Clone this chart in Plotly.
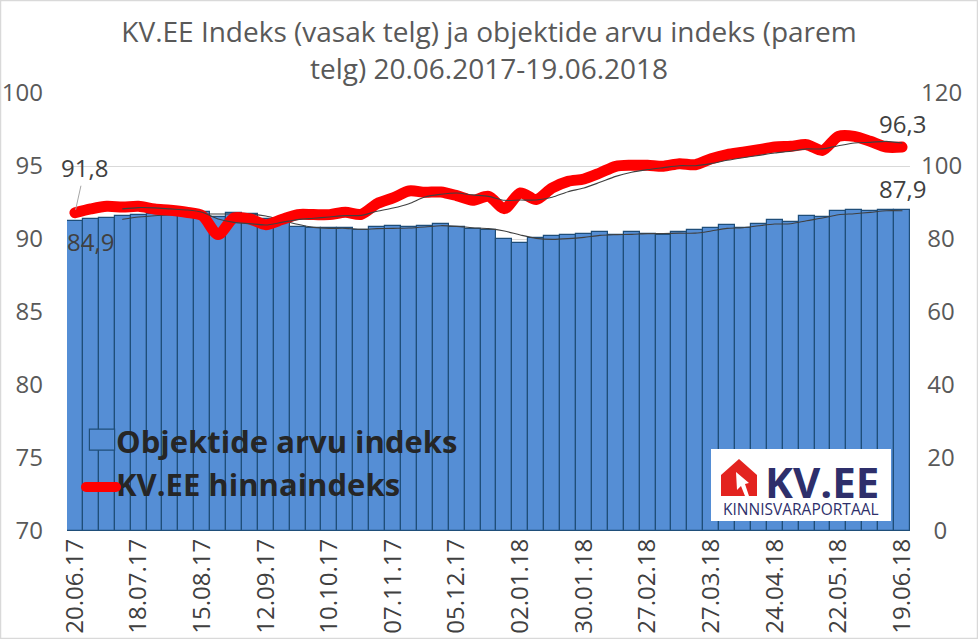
import plotly.graph_objects as go

W, H = 978, 639
L, R, T, B = 67, 910, 93, 531

title_lines = ["KV.EE Indeks (vasak telg) ja objektide arvu indeks (parem", "telg) 20.06.2017-19.06.2018"]

categories = ["20.06.17","27.06.17","04.07.17","11.07.17","18.07.17","25.07.17","01.08.17","08.08.17","15.08.17",
 "22.08.17","29.08.17","05.09.17","12.09.17","19.09.17","26.09.17","03.10.17","10.10.17","17.10.17","24.10.17",
 "31.10.17","07.11.17","14.11.17","21.11.17","28.11.17","05.12.17","12.12.17","19.12.17","26.12.17","02.01.18",
 "09.01.18","16.01.18","23.01.18","30.01.18","06.02.18","13.02.18","20.02.18","27.02.18","06.03.18","13.03.18",
 "20.03.18","27.03.18","03.04.18","10.04.18","17.04.18","24.04.18","01.05.18","08.05.18","15.05.18","22.05.18",
 "29.05.18","05.06.18","12.06.18","19.06.18"]
tick_labels = categories[::4]

objects_index = [84.85,85.48,85.75,86.3,86.57,86.76,86.57,86.85,87.3,85.93,87.03,86.85,85.39,84.29,83.38,83.1,82.92,
 82.92,82.46,83.2,83.47,83.38,83.47,84.02,83.28,82.65,82.37,79.9,78.81,80.27,80.73,81.0,81.28,81.82,81.19,81.82,81.46,
 81.0,81.8,82.47,82.95,83.75,82.95,84.1,85.19,84.65,86.29,86.02,87.66,87.93,87.57,87.93,87.9]

price_index = [91.8,92.06,92.24,92.19,92.24,92.06,91.97,91.83,91.6,90.3,91.44,91.37,90.98,91.33,91.67,91.67,91.67,
 91.83,91.69,92.42,92.81,93.29,93.2,93.22,92.97,92.65,92.92,92.08,93.15,92.7,93.49,93.95,94.11,94.52,94.98,95.05,95.05,
 94.98,95.16,95.09,95.5,95.78,95.94,96.12,96.3,96.35,96.46,96.07,97.03,97.03,96.69,96.3,96.3]

price_trend = [None,None,None,92.06,92.15,92.13,92.06,91.99,91.83,91.37,91.14,91.05,90.96,91.14,91.33,91.42,91.51,
 91.6,91.62,91.9,92.12,92.42,92.88,93.06,93.15,93.02,92.92,92.65,92.67,92.67,92.86,93.24,93.49,93.88,94.29,94.57,94.75,
 94.89,95.02,95.02,95.16,95.39,95.57,95.73,95.89,96.01,96.17,96.17,96.39,96.58,96.62,96.69,96.58]

objects_trend = [None,None,None,85.39,86.03,86.39,86.57,86.66,86.85,86.85,86.85,86.85,86.3,85.2,84.02,83.19,82.92,
 82.92,82.65,82.83,82.92,83.01,83.29,83.65,83.47,83.1,82.83,82.19,81.09,80.18,79.9,80.09,80.45,81.0,81.19,81.28,81.46,
 81.5,81.6,81.6,82.2,82.91,83.09,83.64,84.1,84.19,85.01,85.74,86.66,86.93,87.3,87.75,87.75]

left_ticks = [70,75,80,85,90,95,100]
right_ticks = [0,20,40,60,80,100,120]
right_text = ["\u00a0\u00a00","\u00a020","\u00a040","\u00a060","\u00a080","100","120"]

TICK = "#595959"
FONT = "Open Sans"

def px(x): return (x - L) / (R - L)
def py(y): return (B - y) / (B - T)
def poly(pts):
    return "M " + " L ".join(f"{px(a):.5f},{py(b):.5f}" for a, b in pts) + " Z"

fig = go.Figure()
fig.add_bar(x=categories, y=objects_index, name="Objektide arvu indeks", yaxis="y",
            marker=dict(color="#558ED5", line=dict(color="#1F4E79", width=1.2)))
fig.add_scatter(x=categories, y=price_index, name="KV.EE hinnaindeks", yaxis="y2", mode="lines",
                line=dict(color="#FF0000", width=11, shape="spline", smoothing=0.8))
fig.add_scatter(x=categories, y=price_trend, yaxis="y2", mode="lines", showlegend=False, hoverinfo="skip",
                line=dict(color="#404040", width=1.1, shape="spline", smoothing=0.8))
fig.add_scatter(x=categories, y=objects_trend, yaxis="y", mode="lines", showlegend=False, hoverinfo="skip",
                line=dict(color="#404040", width=1.1, shape="spline", smoothing=0.8))

lab = dict(size=24, color="#404040", family=FONT)
annotations = [
    dict(x=categories[0], y=price_index[0], xref="x", yref="y2", text="91,8", font=lab,
         showarrow=True, arrowhead=0, arrowwidth=1, arrowcolor="#A6A6A6", ax=10, ay=-45, standoff=3),
    dict(x=categories[0], y=objects_index[0], xref="x", yref="y", text="84,9", font=lab,
         showarrow=False, xshift=16, yshift=-20),
    dict(x=categories[-1], y=price_index[-1], xref="x", yref="y2", text="96,3", font=lab,
         showarrow=False, xshift=0, yshift=24),
    dict(x=categories[-1], y=objects_index[-1], xref="x", yref="y", text="87,9", font=lab,
         showarrow=False, xshift=0, yshift=22),
    dict(x=px(822), y=py(481), xref="paper", yref="paper", xanchor="center", yanchor="middle",
         text="<b>KV.EE</b>", showarrow=False, font=dict(size=42, color="#2E2F6B", family=FONT)),
    dict(x=px(800.5), y=py(508.5), xref="paper", yref="paper", xanchor="center", yanchor="middle",
         text="KINNISVARAPORTAAL", showarrow=False, font=dict(size=15.5, color="#2E2F6B", family=FONT)),
]

shapes = [
    dict(type="rect", xref="paper", yref="paper", x0=px(711), x1=px(891), y0=py(449), y1=py(521),
         fillcolor="white", line=dict(width=0)),
    dict(type="path", xref="paper", yref="paper", line=dict(width=0), fillcolor="#E3231F",
         path=poly([(739,459),(721,475),(721,496),(757,496),(757,475)])),
    dict(type="path", xref="paper", yref="paper", line=dict(width=0), fillcolor="white",
         path=poly([(736,472),(737,490),(741,486),(745,496),(749,496),(745,484),(749,483)])),
]

fig.update_layout(
    width=W, height=H, margin=dict(l=L, r=W-R, t=T, b=H-B, pad=0),
    paper_bgcolor="white", plot_bgcolor="white",
    font=dict(family=FONT, color=TICK),
    title=dict(text="<br>".join(title_lines), x=0.5, xanchor="center", y=0.934, yanchor="middle",
               font=dict(size=28, color="#595959", family=FONT), automargin=False),
    bargap=0,
    xaxis=dict(type="category", range=[-0.5, 52.5], tickmode="array", tickvals=tick_labels, ticktext=tick_labels,
               tickangle=-90, tickfont=dict(size=24, color="#404040"), ticks="", showgrid=False,
               showline=False, zeroline=False, ticklabelstandoff=2, automargin=False),
    yaxis=dict(side="right", range=[0, 120], tickmode="array", tickvals=right_ticks, ticktext=right_text,
               tickfont=dict(size=24, color=TICK), showgrid=True, gridcolor="#D9D9D9", gridwidth=1,
               ticks="", zeroline=False, showline=False, ticklabelstandoff=10, automargin=False),
    yaxis2=dict(side="left", overlaying="y", range=[70, 100], tickmode="array", tickvals=left_ticks,
                tickfont=dict(size=24, color=TICK), showgrid=False, ticks="", zeroline=False, showline=False,
                ticklabelstandoff=23, automargin=False),
    legend=dict(x=px(76), y=py(414), xanchor="left", yanchor="top", bgcolor="rgba(0,0,0,0)",
                itemwidth=30, traceorder="normal", tracegroupgap=0,
                font=dict(size=31, color="#262626", family=FONT, weight="bold")),
    showlegend=True,
    annotations=annotations,
    shapes=shapes + [dict(type="rect", xref="paper", yref="paper", x0=px(0.5), x1=px(W-0.5), y0=py(0.5), y1=py(H-0.5),
                          line=dict(color="#D9D9D9", width=1.5), fillcolor="rgba(0,0,0,0)", layer="below")],
)

post = """
document.body.style.margin='0';
var s=document.createElement('style');
s.textContent='.js-line{stroke-linecap:round}'
 +'.legendlines .js-line{transform:translate(5px,3px)}'
 +'.legendpoints path{transform:translate(26px,-1px) scale(2.1,1.75);vector-effect:non-scaling-stroke}';
document.head.appendChild(s);
"""
fig.write_html("out.html", post_script=post, config={"displayModeBar": False})
